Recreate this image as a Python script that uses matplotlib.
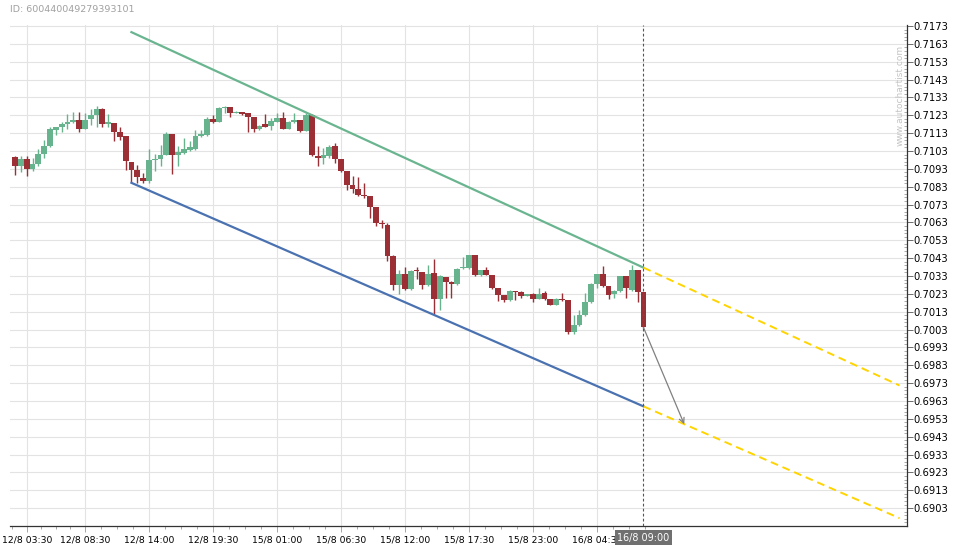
import numpy as np
import matplotlib
matplotlib.use("Agg")
import matplotlib.pyplot as plt
from matplotlib.transforms import blended_transform_factory

# candle data (30 min bars), index 0 = 12/8 02:30
opens = [0.70999, 0.70947, 0.70987, 0.70932, 0.70960, 0.71015, 0.71056, 0.71150, 0.71165, 0.71180,
         0.71193, 0.71204, 0.71156, 0.71208, 0.71232, 0.71265, 0.71184, 0.71187, 0.71137, 0.71113,
         0.70971, 0.70923, 0.70880, 0.70860, 0.70982, 0.70987, 0.71010, 0.71126, 0.71006, 0.71019,
         0.71034, 0.71041, 0.71117, 0.71121, 0.71210, 0.71195, 0.71273, 0.71278, 0.71245, 0.71249,
         0.71245, 0.71221, 0.71152, 0.71182, 0.71171, 0.71195, 0.71215, 0.71156, 0.71193, 0.71204,
         0.71145, 0.71232, 0.71004, 0.70989, 0.71000, 0.71056, 0.70987, 0.70916, 0.70842, 0.70819,
         0.70782, 0.70777, 0.70717, 0.70628, 0.70618, 0.70445, 0.70279, 0.70344, 0.70255, 0.70363,
         0.70355, 0.70279, 0.70348, 0.70203, 0.70325, 0.70296, 0.70283, 0.70374, 0.70374, 0.70450,
         0.70335, 0.70363, 0.70338, 0.70264, 0.70222, 0.70193, 0.70248, 0.70239, 0.70217, 0.70232,
         0.70202, 0.70235, 0.70202, 0.70167, 0.70202, 0.70193, 0.70016, 0.70053, 0.70109, 0.70183,
         0.70286, 0.70343, 0.70273, 0.70230, 0.70245, 0.70329, 0.70254, 0.70366, 0.70239]
highs = [0.71000, 0.71000, 0.71000, 0.70991, 0.71041, 0.71093, 0.71163, 0.71167, 0.71195, 0.71237,
         0.71249, 0.71249, 0.71241, 0.71263, 0.71282, 0.71269, 0.71237, 0.71187, 0.71163, 0.71113,
         0.70971, 0.70954, 0.70908, 0.71041, 0.71015, 0.71065, 0.71139, 0.71126, 0.71056, 0.71102,
         0.71084, 0.71149, 0.71149, 0.71223, 0.71230, 0.71274, 0.71284, 0.71278, 0.71256, 0.71249,
         0.71245, 0.71221, 0.71176, 0.71237, 0.71213, 0.71241, 0.71247, 0.71200, 0.71241, 0.71204,
         0.71241, 0.71237, 0.71056, 0.71047, 0.71065, 0.71075, 0.70987, 0.70916, 0.70888, 0.70885,
         0.70851, 0.70777, 0.70717, 0.70646, 0.70627, 0.70450, 0.70366, 0.70381, 0.70366, 0.70381,
         0.70355, 0.70394, 0.70426, 0.70338, 0.70325, 0.70301, 0.70376, 0.70437, 0.70450, 0.70450,
         0.70366, 0.70381, 0.70338, 0.70264, 0.70222, 0.70254, 0.70248, 0.70245, 0.70232, 0.70235,
         0.70263, 0.70245, 0.70202, 0.70207, 0.70235, 0.70193, 0.70109, 0.70142, 0.70235, 0.70291,
         0.70343, 0.70388, 0.70273, 0.70254, 0.70329, 0.70329, 0.70394, 0.70366, 0.70239]
lows = [0.70895, 0.70913, 0.70889, 0.70917, 0.70948, 0.70991, 0.71052, 0.71121, 0.71134, 0.71152,
        0.71186, 0.71134, 0.71152, 0.71174, 0.71167, 0.71167, 0.71163, 0.71089, 0.71093, 0.70926,
        0.70856, 0.70849, 0.70852, 0.70852, 0.70917, 0.70945, 0.71006, 0.70899, 0.70948, 0.71015,
        0.71028, 0.71037, 0.71111, 0.71117, 0.71189, 0.71191, 0.71241, 0.71223, 0.71241, 0.71232,
        0.71139, 0.71139, 0.71149, 0.71163, 0.71149, 0.71191, 0.71152, 0.71152, 0.71189, 0.71139,
        0.71141, 0.71000, 0.70948, 0.70960, 0.70991, 0.70963, 0.70911, 0.70814, 0.70795, 0.70777,
        0.70767, 0.70656, 0.70609, 0.70600, 0.70417, 0.70251, 0.70227, 0.70251, 0.70251, 0.70314,
        0.70255, 0.70273, 0.70115, 0.70139, 0.70208, 0.70208, 0.70277, 0.70370, 0.70370, 0.70329,
        0.70329, 0.70333, 0.70255, 0.70190, 0.70185, 0.70189, 0.70198, 0.70207, 0.70217, 0.70183,
        0.70202, 0.70198, 0.70165, 0.70165, 0.70189, 0.70008, 0.70008, 0.70049, 0.70105, 0.70180,
        0.70263, 0.70269, 0.70202, 0.70207, 0.70241, 0.70207, 0.70245, 0.70183, 0.70040]
closes = [0.70945, 0.70987, 0.70932, 0.70960, 0.71015, 0.71060, 0.71154, 0.71165, 0.71182, 0.71191,
          0.71204, 0.71156, 0.71204, 0.71232, 0.71265, 0.71184, 0.71193, 0.71139, 0.71111, 0.70973,
          0.70926, 0.70884, 0.70860, 0.70982, 0.70987, 0.71010, 0.71126, 0.71006, 0.71023, 0.71041,
          0.71050, 0.71115, 0.71124, 0.71210, 0.71195, 0.71273, 0.71278, 0.71245, 0.71249, 0.71237,
          0.71223, 0.71152, 0.71171, 0.71167, 0.71199, 0.71213, 0.71156, 0.71193, 0.71204, 0.71145,
          0.71232, 0.71006, 0.70993, 0.71006, 0.71052, 0.70987, 0.70916, 0.70842, 0.70819, 0.70786,
          0.70777, 0.70717, 0.70628, 0.70622, 0.70445, 0.70279, 0.70344, 0.70255, 0.70357, 0.70357,
          0.70279, 0.70344, 0.70203, 0.70329, 0.70296, 0.70286, 0.70372, 0.70381, 0.70450, 0.70335,
          0.70363, 0.70338, 0.70264, 0.70223, 0.70193, 0.70248, 0.70239, 0.70217, 0.70232, 0.70202,
          0.70232, 0.70204, 0.70167, 0.70204, 0.70193, 0.70016, 0.70053, 0.70109, 0.70183, 0.70286,
          0.70343, 0.70273, 0.70226, 0.70245, 0.70329, 0.70263, 0.70366, 0.70239, 0.70044]

# channel lines (bar index, price)
upper_x = [20, 108]
upper_y = [0.71696, 0.70377]
lower_x = [20, 108]
lower_y = [0.70852, 0.69600]
proj_x = [108, 152]
proj_upper = [0.70377, 0.69717]
proj_lower = [0.69600, 0.68974]
arrow_from = (108, 0.70042)
arrow_to = (115, 0.69500)

tick_pos = [2, 12, 23, 34, 45, 56, 67, 78, 89, 100]
tick_labels = ["12/8 03:30", "12/8 08:30", "12/8 14:00", "12/8 19:30", "15/8 01:00",
               "15/8 06:30", "15/8 12:00", "15/8 17:30", "15/8 23:00", "16/8 04:30"]
yticks = [0.6903 + 0.001 * i for i in range(28)]
now_label = "16/8 09:00"

green = "#67b38d"
red = "#9b2f35"

fig = plt.figure(figsize=(9.6, 5.5), dpi=100)
ax = fig.add_axes([10 / 960, 1 - 526 / 550, (906.5 - 10) / 960, (526 - 25) / 550])

o = np.array(opens); h = np.array(highs); l = np.array(lows); c = np.array(closes)
x = np.arange(len(o))
up = c >= o
cols = np.where(up, green, red)
body_lo = np.minimum(o, c)
body_h = np.maximum(np.abs(c - o), 0.00003)
ax.vlines(x, l, h, colors=cols, linewidth=1.0, zorder=3)
ax.bar(x, body_h, bottom=body_lo, width=1.0, color=cols, linewidth=0, zorder=4)

ax.plot(upper_x, upper_y, color="#6ab590", lw=1.6, zorder=5)
ax.plot(lower_x, lower_y, color="#4a72b0", lw=1.6, zorder=5)
ax.plot(proj_x, proj_upper, color="#ffd400", lw=1.4, ls=(0, (4, 2.5)), zorder=5)
ax.plot(proj_x, proj_lower, color="#ffd400", lw=1.4, ls=(0, (4, 2.5)), zorder=5)
ax.annotate("", xy=arrow_to, xytext=arrow_from,
            arrowprops=dict(arrowstyle="->", color="#808080", lw=0.9, shrinkA=0, shrinkB=0,
                            mutation_scale=9), zorder=6)
ax.axvline(108, color="#555555", lw=0.8, ls=(0, (2.5, 2)), zorder=6)

ax.set_xlim(-0.87, 153.2)
ax.set_ylim(0.68935, 0.71736)

ax.yaxis.tick_right()
ax.set_yticks(yticks)
ax.set_yticklabels(["%.4f" % v for v in yticks], fontsize=7.2)
ax.set_yticks(np.arange(0.6893, 0.7175, 0.0002), minor=True)
ax.tick_params(axis="y", which="major", length=4, width=0.6, color="#555555", pad=1)
ax.tick_params(axis="y", which="minor", length=2, width=0.5, color="#888888", direction="in")

ax.set_xticks(tick_pos)
ax.set_xticklabels(tick_labels, fontsize=6.7)
minor_x = []
prev = tick_pos[0] - (tick_pos[1] - tick_pos[0])
for a, b in zip([prev] + tick_pos[:-1], tick_pos):
    for f in (0.25, 0.5, 0.75):
        minor_x.append(a + (b - a) * f)
for f in (0.25, 0.5, 0.75):
    minor_x.append(100 + 11 * f)
ax.set_xticks([m for m in minor_x if -0.8 < m < 153], minor=True)
ax.tick_params(axis="x", which="major", length=4, width=0.6, color="#999999", pad=3)
ax.tick_params(axis="x", which="minor", length=2.5, width=0.6, color="#999999")

ax.grid(True, which="major", color="#e3e3e3", lw=0.8)
ax.set_axisbelow(True)
for s in ("left", "top"):
    ax.spines[s].set_visible(False)
for s in ("right", "bottom"):
    ax.spines[s].set_color("#333333")
    ax.spines[s].set_linewidth(0.9)

tr = blended_transform_factory(ax.transData, ax.transAxes)
ax.text(108, -0.013, now_label, transform=tr, ha="center", va="top", fontsize=6.9,
        color="white", zorder=10,
        bbox=dict(boxstyle="square,pad=0.25", fc="#707070", ec="none"))

fig.text(10 / 960, 1 - 10 / 550, "ID: 600440049279393101", fontsize=6.8, color="#a0a0a0",
         ha="left", va="center")
fig.text(900 / 960, 1 - 95 / 550, "www.autochartist.com", fontsize=6.5, color="#c4c4c4",
         rotation=90, ha="center", va="center")

fig.savefig("out.png", dpi=100, facecolor="white")
